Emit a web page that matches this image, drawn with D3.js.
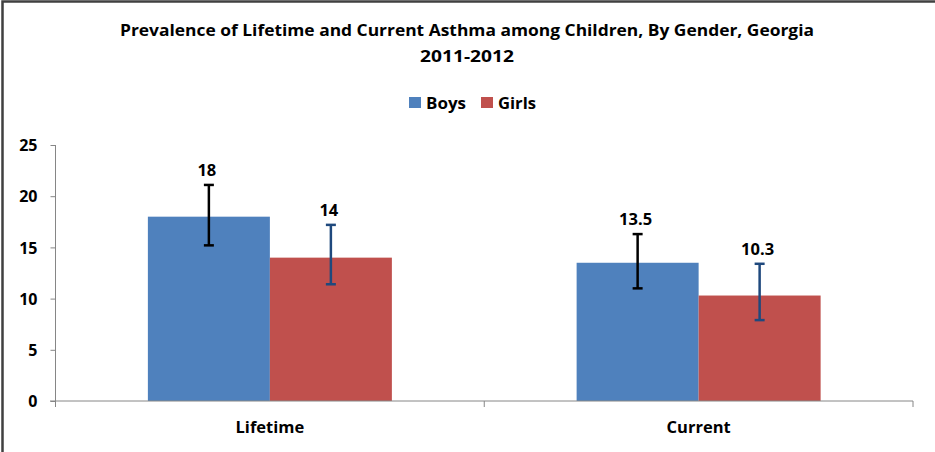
<!DOCTYPE html>
<html><head><meta charset="utf-8">
<script src="https://cdn.jsdelivr.net/npm/d3@7"></script>
<style>body{margin:0;background:#fff}svg{display:block}text{font-family:"Open Sans",Lato,"Liberation Sans",sans-serif;font-weight:bold;fill:#000}</style>
</head><body><svg id="c" width="935" height="452"></svg>
<script>
const categories = ["Lifetime", "Current"];
const seriesNames = ["Boys", "Girls"];
const boys = [18, 13.5];
const girls = [14, 10.3];
const boysLow = [15.2, 11.0];
const boysHigh = [21.1, 16.3];
const girlsLow = [11.4, 7.9];
const girlsHigh = [17.2, 13.4];
const yTicks = [0, 5, 10, 15, 20, 25];
const colors = {Boys: "#4f81bd", Girls: "#c0504d"};
const errColors = {Boys: "#000000", Girls: "#1f497d"};

const svg = d3.select("#c");
// border (left + top)
svg.append("path").attr("d", "M2.5,460 V1.5 H940").attr("fill", "none").attr("stroke", "#404040").attr("stroke-width", 2.5);

const x0 = d3.scaleBand().domain(categories).range([55.5, 913]).paddingInner(0).paddingOuter(0);
const y = d3.scaleLinear().domain([0, 25]).range([401, 145]);

// title
svg.append("text").attr("x", 467).attr("y", 36).attr("text-anchor", "middle").style("font-size", "16.5px")
  .attr("textLength", 694).attr("lengthAdjust", "spacingAndGlyphs")
  .text("Prevalence of Lifetime and Current Asthma among Children, By Gender, Georgia");
svg.append("text").attr("x", 467).attr("y", 62).attr("text-anchor", "middle").style("font-size", "16.5px")
  .attr("textLength", 94).attr("lengthAdjust", "spacingAndGlyphs").text("2011-2012");

// legend
const leg = [{n: "Boys", x: 409, w: 40}, {n: "Girls", x: 481, w: 38}];
leg.forEach(l => {
  svg.append("rect").attr("x", l.x).attr("y", 97).attr("width", 12).attr("height", 11).attr("fill", colors[l.n]);
  svg.append("text").attr("x", l.x + 17).attr("y", 108.5).style("font-size", "16px")
    .attr("textLength", l.w).attr("lengthAdjust", "spacingAndGlyphs").text(l.n);
});

// y axis
const yAxis = d3.axisLeft(y).tickValues(yTicks).tickSize(5).tickPadding(13);
const gy = svg.append("g").attr("transform", "translate(55.5,0)").call(yAxis);
gy.select(".domain").attr("stroke", "#868686").attr("d", "M0,145 V401");
gy.selectAll(".tick line").attr("stroke", "#868686");
gy.selectAll(".tick text").style("font-size", "16px").style("font-family", "'Open Sans',Lato,sans-serif").style("font-weight", "bold").attr("fill", "#000").attr("dy", "0.35em");

// bars
const data = categories.map((c, i) => ({c, vals: [
  {s: "Boys", v: boys[i], lo: boysLow[i], hi: boysHigh[i]},
  {s: "Girls", v: girls[i], lo: girlsLow[i], hi: girlsHigh[i]}]}));
const bw = 122;
const g = svg.append("g");
data.forEach(d => {
  const cx = x0(d.c) + x0.bandwidth() / 2;
  d.vals.forEach((e, j) => {
    const bx = cx - bw + j * bw;
    g.append("rect").attr("x", bx).attr("y", y(e.v)).attr("width", bw).attr("height", y(0) - y(e.v)).attr("fill", colors[e.s]);
    const ex = bx + bw / 2;
    const ec = errColors[e.s];
    g.append("line").attr("x1", ex).attr("x2", ex).attr("y1", y(e.hi)).attr("y2", y(e.lo)).attr("stroke", ec).attr("stroke-width", 2.5);
    [e.hi, e.lo].forEach(v => g.append("line").attr("x1", ex - 5).attr("x2", ex + 5).attr("y1", y(v)).attr("y2", y(v)).attr("stroke", ec).attr("stroke-width", 2.5));
    g.append("text").attr("x", ex - 2).attr("y", y(e.hi) - 9).attr("text-anchor", "middle").style("font-size", "16.5px").text(e.v);
  });
});

// x axis
const xAxis = d3.axisBottom(x0).tickSize(0).tickPadding(20);
const gx = svg.append("g").attr("transform", "translate(0,401)").call(xAxis);
gx.select(".domain").attr("stroke", "#868686").attr("d", "M50,0 H913");
gx.selectAll(".tick text").style("font-size", "16.5px").style("font-family", "'Open Sans',Lato,sans-serif").style("font-weight", "bold").attr("fill", "#000").attr("dy", "0.71em");
// category boundary ticks
const bounds = [x0.range()[0], x0(categories[1]), x0.range()[1]];
gx.selectAll(".bt").data(bounds).enter().append("line").attr("x1", d => d).attr("x2", d => d).attr("y1", 0).attr("y2", 6).attr("stroke", "#868686");
</script></body></html>
